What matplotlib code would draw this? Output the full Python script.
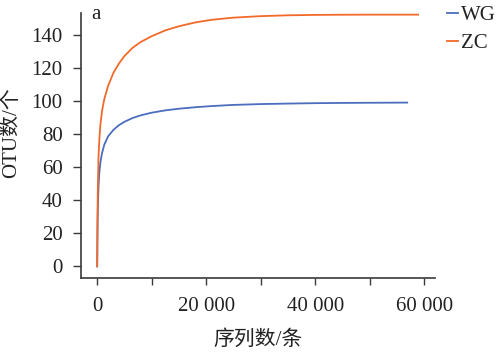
import matplotlib
matplotlib.use("Agg")
import matplotlib.pyplot as plt
from matplotlib.ticker import MultipleLocator, FuncFormatter

# rarefaction curves
zc_seqs = [0, 50, 120, 240, 400, 600, 900, 1300, 2000, 3000, 4000, 5000, 6500, 8000,
           10000, 12500, 15000, 18000, 21000, 25000, 30000, 35000, 40000, 45000,
           50000, 54000, 58900]
zc = [0, 28, 48, 66, 77, 86, 94, 101, 109, 117, 122.5, 127, 132, 135.5,
      139, 142.5, 145, 147.3, 148.9, 150.2, 151.1, 151.6, 151.85, 151.95,
      152, 152, 152]
wg_seqs = [0, 50, 120, 240, 370, 600, 860, 1300, 2000, 3000, 4000, 5000, 6500, 8000,
           10000, 12500, 15000, 18000, 21000, 25000, 30000, 35000, 40000, 45000,
           50000, 54000, 56900]
wg = [0, 20, 35, 48, 56, 63, 68, 73.5, 78.5, 82.5, 85.3, 87.3, 89.6, 91.2,
      92.8, 94.2, 95.2, 96.1, 96.8, 97.5, 98, 98.3, 98.55, 98.7,
      98.8, 98.85, 98.9]

plt.rcParams["font.family"] = ["Liberation Serif", "Noto Sans CJK SC"]

fig = plt.figure(figsize=(4.96, 3.61), dpi=100)
ax = fig.add_axes([0.163, 0.23, 0.714, 0.734])

ax.plot(wg_seqs, wg, color="#4a6dbd", lw=1.3, label="WG")
ax.plot(zc_seqs, zc, color="#f26a2a", lw=1.3, label="ZC")

ax.set_xlim(-3000, 62000)
ax.set_ylim(-7, 153)
ax.xaxis.set_major_locator(MultipleLocator(20000))
ax.xaxis.set_minor_locator(MultipleLocator(10000))
ax.yaxis.set_major_locator(MultipleLocator(20))
ax.xaxis.set_major_formatter(FuncFormatter(lambda v, p: f"{int(v):,}".replace(",", " ")))

for s in ["top", "right"]:
    ax.spines[s].set_visible(False)
for s in ["left", "bottom"]:
    ax.spines[s].set_color("#3a3a3a")
    ax.spines[s].set_linewidth(1.2)
ax.tick_params(which="both", direction="out", color="#3a3a3a", width=1, labelsize=15,
               labelcolor="#222222")
ax.tick_params(axis="y", length=6, pad=7)
ax.tick_params(axis="x", which="both", length=5, pad=9)

ax.set_xlabel("序列数/条", fontsize=15, color="#222222", labelpad=10)
ax.set_ylabel("OTU数/个", fontsize=15, color="#222222")
ax.yaxis.set_label_coords(-0.17, 0.55)

ax.text(0.03, 1.03, "a", transform=ax.transAxes, fontsize=15, va="top", ha="left",
        color="#222222")

leg = ax.legend(loc="upper left", bbox_to_anchor=(1.011, 1.06), frameon=False,
                fontsize=15, handlelength=0.5, handletextpad=0.15, labelspacing=0.4,
                borderaxespad=0)
for t in leg.get_texts():
    t.set_color("#222222")

fig.savefig("out.png", dpi=100, facecolor="white")
